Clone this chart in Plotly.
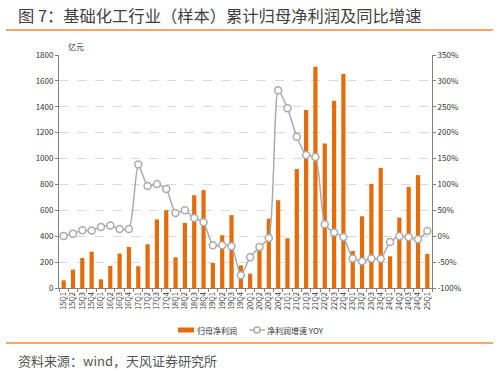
import plotly.graph_objects as go

quarters = ["15Q1","15Q2","15Q3","15Q4","16Q1","16Q2","16Q3","16Q4",
            "17Q1","17Q2","17Q3","17Q4","18Q1","18Q2","18Q3","18Q4",
            "19Q1","19Q2","19Q3","19Q4","20Q1","20Q2","20Q3","20Q4",
            "21Q1","21Q2","21Q3","21Q4","22Q2","22Q3","22Q4",
            "23Q1","23Q2","23Q3","23Q4","24Q1","24Q2","24Q3","24Q4","25Q1"]

net_profit = [59, 142, 232, 281, 67, 170, 266, 317,
              168, 338, 530, 601, 237, 503, 717, 756,
              194, 407, 563, 175, 111, 300, 535, 678,
              384, 919, 1375, 1709, 1117, 1447, 1654,
              285, 554, 804, 928, 245, 544, 781, 872, 264]

yoy = [0.6, 5, 11.5, 11, 18, 20.6, 14, 14,
       138.5, 97, 101, 91, 45, 50, 35, 27,
       -17.5, -17.5, -19.5, -75.5, -40.7, -21, -3.3, 282,
       247, 192, 157, 153, 23, 7, -1.5,
       -43, -48.4, -43, -43.5, -11, 0, -2, -6, 10]

left_ticks = [0, 200, 400, 600, 800, 1000, 1200, 1400, 1600, 1800]
right_ticks = [-100, -50, 0, 50, 100, 150, 200, 250, 300, 350]
right_tick_text = [f"{v}%" for v in right_ticks]

title_text = "图 7：基础化工行业（样本）累计归母净利润及同比增速"
source_text = "资料来源：wind，天风证券研究所"
bar_name = "归母净利润"
line_name = "净利润增速 YOY"

FONT = "Noto Sans CJK SC"
ORANGE = "#E46C0A"
GREY = "#ABABAB"

plot_top, plot_bottom, plot_left, plot_right = 55, 288, 59, 432
def py(pix):
    return (plot_bottom - pix) / (plot_bottom - plot_top)
def px(pix):
    return (pix - plot_left) / (plot_right - plot_left)

fig = go.Figure()
fig.add_trace(go.Bar(x=quarters, y=net_profit, name=bar_name,
                     marker=dict(color=ORANGE, line=dict(width=0)),
                     yaxis="y", showlegend=False))
fig.add_trace(go.Scatter(x=quarters, y=yoy, name=line_name,
                         mode="lines+markers", yaxis="y2", showlegend=False,
                         line=dict(color=GREY, width=1.5, shape="spline", smoothing=0.6),
                         marker=dict(symbol="circle", size=7, color="white",
                                     line=dict(color=GREY, width=1.5))))

fig.update_layout(
    width=499, height=373,
    margin=dict(l=59, r=67, t=55, b=85),
    paper_bgcolor="white", plot_bgcolor="white",
    font=dict(family=FONT, size=8, color="#333333"),
    bargap=0.55,
    showlegend=False,
    xaxis=dict(type="category", tickangle=-90, tickfont=dict(size=7.5, color="#404040"),
               showline=True, linecolor="#808080", linewidth=1,
               ticks="outside", tickson="boundaries", ticklen=3, tickcolor="#808080",
               showgrid=False, range=[-0.5, len(quarters) - 0.5]),
    yaxis=dict(range=[0, 1800], tickvals=left_ticks, showline=True, linecolor="#808080",
               linewidth=1, ticks="outside", ticklen=3, tickcolor="#808080",
               showgrid=True, gridcolor="#D9D9D9", griddash="dash", gridwidth=1,
               zeroline=False, tickfont=dict(size=8, color="#333333")),
    yaxis2=dict(range=[-100, 350], tickvals=right_ticks, ticktext=right_tick_text,
                overlaying="y", side="right", showline=True, linecolor="#808080", linewidth=1,
                ticks="outside", ticklen=3, tickcolor="#808080",
                showgrid=False, zeroline=False, tickfont=dict(size=8, color="#333333")),
)

# Title, unit, source
fig.add_annotation(text=title_text, x=px(16), y=py(15), xref="paper", yref="paper",
                   showarrow=False, xanchor="left", yanchor="middle",
                   font=dict(size=16.3, color="#404040", family=FONT))
fig.add_annotation(text="亿元", x=px(66), y=py(47), xref="paper", yref="paper",
                   showarrow=False, xanchor="left", yanchor="middle",
                   font=dict(size=8, color="#333333"))
fig.add_annotation(text=source_text, x=px(16), y=py(360), xref="paper", yref="paper",
                   showarrow=False, xanchor="left", yanchor="middle",
                   font=dict(size=13, color="#555555", family=FONT))

# Separator lines
fig.add_shape(type="line", xref="paper", yref="paper", x0=px(6), x1=px(493), y0=py(30), y1=py(30),
              line=dict(color="#F0883A", width=1.5))
fig.add_shape(type="line", xref="paper", yref="paper", x0=px(6), x1=px(493), y0=py(343), y1=py(343),
              line=dict(color="#F0883A", width=1.5))

# Legend (drawn compactly as in the reference)
leg_y = 330
fig.add_shape(type="rect", xref="paper", yref="paper", x0=px(178), x1=px(194),
              y0=py(leg_y + 2.5), y1=py(leg_y - 2.5), line=dict(width=0), fillcolor=ORANGE)
fig.add_annotation(text=bar_name, x=px(195), y=py(leg_y), xref="paper", yref="paper",
                   showarrow=False, xanchor="left", yanchor="middle",
                   font=dict(size=8, color="#333333"))
fig.add_shape(type="line", xref="paper", yref="paper", x0=px(249), x1=px(265),
              y0=py(leg_y), y1=py(leg_y), line=dict(color=GREY, width=1.5))
fig.add_shape(type="circle", xref="paper", yref="paper", x0=px(254), x1=px(260),
              y0=py(leg_y + 3), y1=py(leg_y - 3), line=dict(color=GREY, width=1.5),
              fillcolor="white")
fig.add_annotation(text=line_name, x=px(265), y=py(leg_y), xref="paper", yref="paper",
                   showarrow=False, xanchor="left", yanchor="middle",
                   font=dict(size=8, color="#333333"))

fig.write_html("out.html", config={"displayModeBar": False},
               post_script="document.body.style.margin='0';document.body.style.overflow='hidden';")
